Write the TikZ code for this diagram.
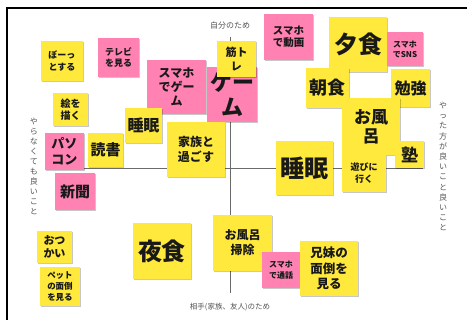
\documentclass[tikz,border=0pt]{standalone}
\usepackage{fontspec}
\setmainfont{Noto Sans CJK JP}
\usetikzlibrary{shadows}
\definecolor{stickyY}{HTML}{FFE93C}
\definecolor{stickyP}{HTML}{FF82B2}
\definecolor{axisgray}{HTML}{6A6A6A}
\definecolor{labelgray}{HTML}{555555}
\newcommand{\fs}[1]{\fontsize{#1}{#1}\selectfont}
\tikzset{
  note/.style={draw=none, inner sep=0pt, align=center, text=black!90,
    drop shadow={shadow xshift=0.6pt, shadow yshift=-0.9pt, opacity=0.22, fill=black}},
  ynote/.style={note, fill=stickyY},
  pnote/.style={note, fill=stickyP},
  axisline/.style={draw=axisgray, line width=0.9pt},
  axislabel/.style={text=labelgray, inner sep=0pt, align=center},
  frameline/.style={draw=black, line width=2pt}
}
\begin{document}
\begin{tikzpicture}[x=1pt,y=-1pt]
\useasboundingbox (0,0) rectangle (467,320);
\fill[white] (0,0) rectangle (467,320);
% frame
\coordinate (fl) at (7,320);
\coordinate (fc) at (7,8);
\coordinate (fr) at (467,8);
\draw[frameline] (fl) -- (fc) -- (fr);
% axes
\coordinate (axL) at (50,168);
\coordinate (axR) at (423,168);
\coordinate (axT) at (230,37);
\coordinate (axB) at (230,293);
\draw[axisline] (axL) -- (axR);
\draw[axisline] (axT) -- (axB);
% axis labels
\node[axislabel, font=\fs{8}] (top) at (230,25) {自分のため};
\node[axislabel, font=\fs{7.5}] (bottom) at (230,307) {相手(家族、友人)のため};
\node[axislabel, font=\fontsize{8}{10}\selectfont] (left) at (34,166) {や\\ら\\な\\く\\て\\も\\良\\い\\こ\\と};
\node[axislabel, font=\fontsize{8}{10.2}\selectfont] (right) at (443,166.5) {や\\っ\\た\\方\\が\\良\\い\\こ\\と\\良\\い\\こ\\と};
% notes
\node[ynote, minimum width=42pt, minimum height=40pt, font=\fontsize{9}{11.5}\selectfont\bfseries] (bootto) at (62,61) {ぼーっ\\とする};
\node[pnote, minimum width=41pt, minimum height=39pt, font=\fontsize{9}{11.5}\selectfont\bfseries] (tv) at (118.5,57.5) {テレビ\\を見る};
\node[ynote, minimum width=35pt, minimum height=33pt, font=\fontsize{10}{12.5}\selectfont\bfseries] (e) at (70.5,109.5) {絵を\\描く};
\node[pnote, minimum width=59pt, minimum height=54pt, font=\fontsize{12}{14}\selectfont\bfseries] (smagame) at (176.5,87) {スマホ\\でゲー\\ム};
\node[pnote, minimum width=50pt, minimum height=55pt, font=\fontsize{22}{25}\selectfont\bfseries] (game) at (232,94.5) {ゲー\\ム};
\node[ynote, minimum width=39pt, minimum height=36pt, font=\fontsize{11}{14}\selectfont\bfseries] (kintore) at (236.5,59) {筋ト\\レ};
\node[pnote, minimum width=49pt, minimum height=46pt, font=\fontsize{10.5}{12.5}\selectfont\bfseries] (smadouga) at (288.5,37) {スマホ\\で動画};
\node[ynote, minimum width=58pt, minimum height=55pt, font=\fontsize{24}{26}\selectfont\bfseries] (yushoku) at (358,44.5) {夕食};
\node[pnote, minimum width=36pt, minimum height=34pt, font=\fontsize{8}{10}\selectfont\bfseries] (sns) at (405,49) {スマホ\\でSNS};
\node[ynote, minimum width=43pt, minimum height=40pt, font=\fontsize{18}{20}\selectfont\bfseries] (choshoku) at (327.5,88) {朝食};
\node[ynote, minimum width=39pt, minimum height=38pt, font=\fontsize{16}{18}\selectfont\bfseries] (benkyo) at (410.5,88) {勉強};
\node[ynote, minimum width=58pt, minimum height=57pt, font=\fontsize{17}{19}\selectfont\bfseries] (ofuro) at (371,126.5) {お風\\呂};
\node[ynote, minimum width=29pt, minimum height=27pt, font=\fontsize{17}{19}\selectfont\bfseries] (juku) at (409.5,154.5) {塾};
\node[ynote, minimum width=44pt, minimum height=37pt, font=\fontsize{9}{12}\selectfont\bfseries] (asobi) at (364,173.5) {遊びに\\行く};
\node[ynote, minimum width=57pt, minimum height=54pt, font=\fontsize{24}{26}\selectfont\bfseries] (suiminR) at (304.5,168) {睡眠};
\node[ynote, minimum width=37pt, minimum height=35pt, font=\fontsize{16}{18}\selectfont\bfseries] (suiminL) at (143.5,125.5) {睡眠};
\node[pnote, minimum width=39pt, minimum height=37pt, font=\fontsize{13}{15.5}\selectfont\bfseries] (pasokon) at (64.5,151.5) {パソ\\コン};
\node[ynote, minimum width=35pt, minimum height=34pt, font=\fontsize{15}{17}\selectfont\bfseries] (dokusho) at (105.5,150) {読書};
\node[pnote, minimum width=40pt, minimum height=37pt, font=\fontsize{15}{17}\selectfont\bfseries] (shinbun) at (75,191.5) {新聞};
\node[ynote, minimum width=58pt, minimum height=55pt, font=\fontsize{12}{15}\selectfont\bfseries] (kazoku) at (196,149.5) {家族と\\過ごす};
\node[ynote, minimum width=35pt, minimum height=32pt, font=\fontsize{11}{13}\selectfont\bfseries] (otsukai) at (54.5,247) {おつ\\かい};
\node[ynote, minimum width=40pt, minimum height=39pt, font=\fontsize{8.5}{11}\selectfont\bfseries] (pet) at (60,286.5) {ペット\\の面倒\\を見る};
\node[ynote, minimum width=58pt, minimum height=56pt, font=\fontsize{24}{26}\selectfont\bfseries] (yashoku) at (162,251) {夜食};
\node[ynote, minimum width=59pt, minimum height=56pt, font=\fontsize{12}{15}\selectfont\bfseries] (furosoji) at (242.5,243) {お風呂\\掃除};
\node[pnote, minimum width=38pt, minimum height=36pt, font=\fontsize{8}{10.5}\selectfont\bfseries] (tsuwa) at (281,270) {スマホ\\で通話};
\node[ynote, minimum width=58pt, minimum height=55pt, font=\fontsize{12.5}{15.5}\selectfont\bfseries] (kyodai) at (329,268.5) {兄妹の\\面倒を\\見る};
\end{tikzpicture}
\end{document}
